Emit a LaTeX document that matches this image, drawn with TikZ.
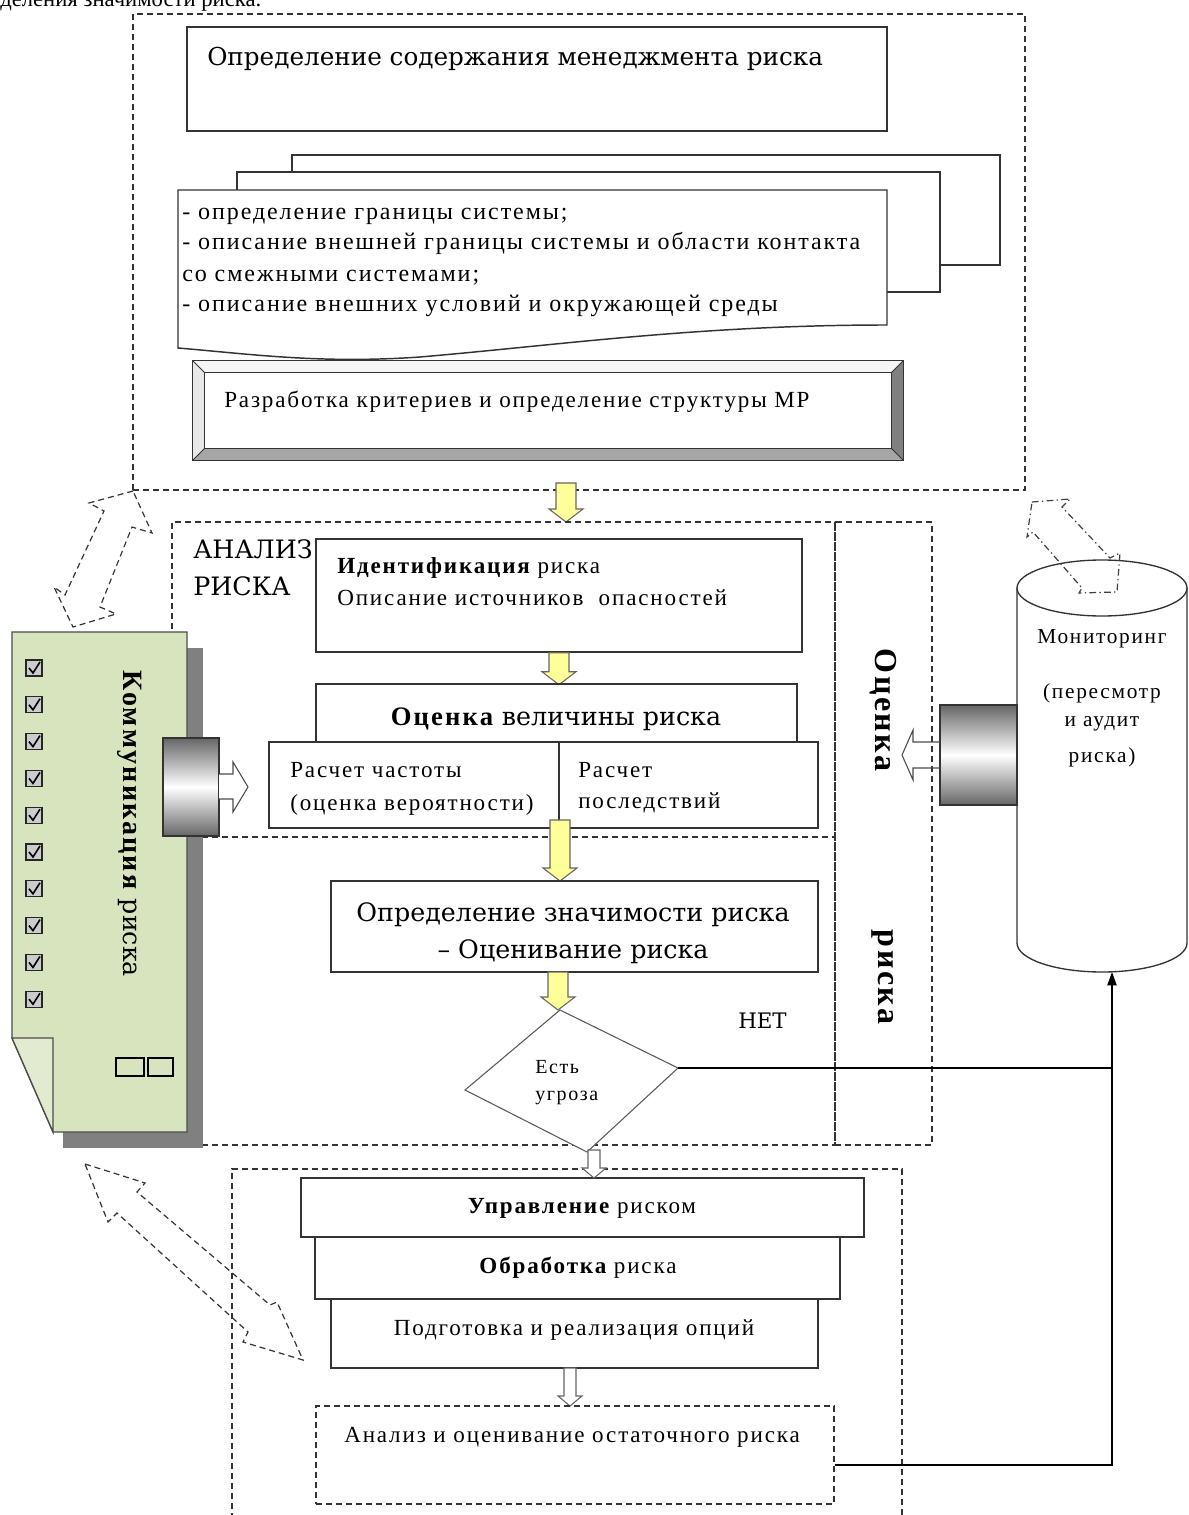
\documentclass[tikz,border=0pt]{standalone}
\usepackage{fontspec}
\setmainfont{Liberation Serif}
\newfontfamily\tnr[LetterSpace=8]{Liberation Serif}
\newfontfamily\widefont{DejaVu Serif}
\usepackage{tikz}
\usetikzlibrary{fit,calc,arrows.meta}

\definecolor{docgreen}{RGB}{215,228,189}
\definecolor{flapgreen}{RGB}{226,235,208}
\definecolor{arrowyellow}{RGB}{255,255,153}

\tikzset{
  box/.style={draw=black!80, line width=1.1pt, fill=white, inner sep=0pt},
  dashframe/.style={draw=black!80, line width=0.9pt, dash pattern=on 4.5pt off 3pt, inner sep=0pt},
  dashdotline/.style={draw=black!75, line width=0.9pt, dash pattern=on 5pt off 2.5pt on 1pt off 2.5pt},
  docline/.style={draw=black!80, line width=1.1pt, fill=white},
  lbl/.style={inner sep=0pt, anchor=base west, font=\tnr\fontsize{17.3}{20}\selectfont},
  midlbl/.style={inner sep=0pt, anchor=base, font=\tnr\fontsize{17.3}{20}\selectfont},
  widelbl/.style={inner sep=0pt, anchor=base west, font=\widefont\fontsize{18.5}{22}\selectfont},
  monlbl/.style={inner sep=0pt, anchor=base, font=\tnr\fontsize{16}{18}\selectfont},
  vlbl/.style={inner sep=0pt, rotate=-90, font=\tnr\bfseries\fontsize{24}{28}\selectfont},
  link/.style={draw=black, line width=1pt},
  grayblock/.style={draw=black!80, line width=0.8pt, inner sep=0pt, top color=black!60, bottom color=black!60, middle color=white},
  grayline/.style={draw=black!70, line width=0.8pt},
  chk/.style={draw=black!85, fill=gray!40, line width=1pt, minimum size=12pt, inner sep=0pt},
  chkmark/.style={draw=black, line width=1.2pt},
  pics/yarrow/.style={code={
    \draw[draw=black!60, fill=arrowyellow, line width=0.8pt] (-10,0) -- (10,0) -- (10,13-#1) -- (17,13-#1) -- (0,-#1) -- (-17,13-#1) -- (-10,13-#1) -- cycle;}},
  pics/warrow/.style={code={
    \draw[draw=black!60, fill=white, line width=0.8pt] (-6,0) -- (6,0) -- (6,10-#1) -- (12,10-#1) -- (0,-#1) -- (-12,10-#1) -- (-6,10-#1) -- cycle;}},
}

\begin{document}
\begin{tikzpicture}[x=0.75pt,y=0.75pt,yscale=-1,xscale=1]
\useasboundingbox (0,0) rectangle (1188,1515);

% caption line cut by the page top
\node[anchor=base west, inner sep=0pt, font=\fontsize{17}{20}\selectfont] (caption) at (0,7) {деления значимости риска.};

% context
\node[dashframe, fit={(133,14) (1025,490)}] (ctx) {};
\node[box, fit={(187,27) (887,131)}] (scope) {};
\node[widelbl] (scopet) at (207,66) {Определение содержания менеджмента риска};

\draw[docline] (292,155) rectangle (1000,265);
\draw[docline] (237,172) rectangle (940,292);
\draw[docline] (178,190) -- (887,190) -- (887,325) .. controls (700,325) and (560,345) .. (420,357) .. controls (320,364) and (250,354) .. (178,348) -- cycle;
\foreach \yy/\itemtext [count=\i] in {220/{- определение границы системы;}, 250/{- описание внешней границы системы и области контакта}, 282/{со смежными системами;}, 312/{- описание внешних условий и окружающей среды}}
  \node[lbl, font=\tnr\fontsize{18}{20}\selectfont] (bound\i) at (182,\yy) {\itemtext};

% criteria, bevelled
\node[inner sep=0pt, fit={(193,361) (903,460)}] (crit) {};
\node[inner sep=0pt, fit={(205,373) (891,448)}] (criti) {};
\fill[gray!8] (crit.north west) -- (crit.north east) -- (criti.north east) -- (criti.north west) -- cycle;
\fill[gray!18] (crit.north west) -- (criti.north west) -- (criti.south west) -- (crit.south west) -- cycle;
\fill[gray!70] (crit.south west) -- (criti.south west) -- (criti.south east) -- (crit.south east) -- cycle;
\fill[gray] (crit.north east) -- (crit.south east) -- (criti.south east) -- (criti.north east) -- cycle;
\draw[black!80, line width=1.1pt] (crit.north west) rectangle (crit.south east);
\draw[black!80, line width=0.8pt] (criti.north west) rectangle (criti.south east);
\draw[black!80, line width=0.6pt] (crit.north west) -- (criti.north west) (crit.north east) -- (criti.north east) (crit.south west) -- (criti.south west) (crit.south east) -- (criti.south east);
\node[lbl] (critt) at (224,407) {Разработка критериев и определение структуры МР};

\pic at (566,483) {yarrow=39};

% analysis / evaluation frames
\node[widelbl, font=\widefont\fontsize{19}{22}\selectfont] (anl1) at (193,558) {АНАЛИЗ};
\node[widelbl, font=\widefont\fontsize{19}{22}\selectfont] (anl2) at (193,595) {РИСКА};
\node[dashframe, fit={(172,522) (835,1145)}] (anl) {};
\node[dashframe, fit={(835,522) (932,1145)}] (evalf) {};
\coordinate (split) at (172,837);
\draw[dashframe] (split) -- (split -| evalf.west);
\node[vlbl] (evalt1) at (883,710) {Оценка};
\node[vlbl] (evalt2) at (883,977) {риска};

\node[box, fit={(316,539) (802,652)}] (ident) {};
\node[lbl] (ident1) at (337,573) {\bfseries Идентификация\mdseries\ риска};
\node[lbl] (ident2) at (337,605) {Описание источников\ \ опасностей};
\pic at (ident.south) {yarrow=32};

\node[box, fit={(316,684) (797,742)}] (size) {};
\node[anchor=base, inner sep=0pt] (sizet) at (556,725) {{\tnr\bfseries\fontsize{20}{24}\selectfont Оценка }{\widefont\fontsize{19}{24}\selectfont величины риска}};
\node[box, fit={(269,742) (559,828)}] (freq) {};
\node[box, fit={(559,742) (818,828)}] (cons) {};
\node[lbl] (freq1) at (290,777) {Расчет частоты};
\node[lbl] (freq2) at (290,810) {(оценка вероятности)};
\node[lbl] (cons1) at (578,777) {Расчет};
\node[lbl] (cons2) at (578,808) {последствий};
\pic at (560,820) {yarrow=61};

\node[box, fit={(331,881) (818,972)}] (signif) {};
\node[widelbl, anchor=base, font=\widefont\fontsize{19}{22}\selectfont] (signif1) at (573,921) {Определение значимости риска};
\node[widelbl, anchor=base, font=\widefont\fontsize{19}{22}\selectfont] (signif2) at (573,958) {– Оценивание риска};

\coordinate (dT) at (560,1010);
\coordinate (dR) at (678,1068);
\coordinate (dB) at (587,1152);
\coordinate (dL) at (465,1090);
\draw[draw=black!65, fill=white, line width=0.8pt] (dT) -- (dR) -- (dB) -- (dL) -- cycle;
\node[lbl, font=\tnr\fontsize{15}{18}\selectfont] (threat1) at (535,1073) {Есть};
\node[lbl, font=\tnr\fontsize{15}{18}\selectfont] (threat2) at (535,1100) {угроза};
\pic at (558,972) {yarrow=38};
\node[widelbl, font=\widefont\fontsize{16}{20}\selectfont] (no) at (738,1028) {НЕТ};

% communication sheet
\fill[black!50] (63,648) rectangle (203,1148);
\draw[draw=black!70, line width=1pt, fill=docgreen] (12,632) -- (187,632) -- (187,1132) -- (53,1132) -- (12,1038) -- cycle;
\draw[draw=black!70, line width=1pt, fill=flapgreen] (12,1038) -- (53,1038) -- (53,1132) -- cycle;
\foreach \k in {0,...,9} {
  \node[chk] (chk\k) at (34,{668+36.8*\k}) {};
  \draw[chkmark] ($(chk\k.center)+(-5,0)$) -- ++(4,5) -- ++(7,-11);
}
\node[draw=black, line width=0.8pt, inner sep=0pt, fit={(116,1058) (144,1076)}] (slot1) {};
\node[draw=black, line width=0.8pt, inner sep=0pt, fit={(148,1058) (173,1076)}] (slot2) {};
\node[inner sep=0pt, rotate=-90] (comm) at (130,824) {{\tnr\bfseries\fontsize{21}{24}\selectfont Коммуникация }{\widefont\fontsize{19}{24}\selectfont риска}};

\node[grayblock, fit={(163,738) (219,836)}] (commblk) {};
\draw[grayline, fill=white] (219,774) -- (233,774) -- (233,762) -- (248,787) -- (233,812) -- (233,799) -- (219,799);

% monitoring
\draw[draw=black!80, line width=1pt, fill=white] (1017,588) -- (1017,943) arc[start angle=180, end angle=0, x radius=85, y radius=29] -- (1187,588);
\draw[draw=black!80, line width=1pt, fill=white] (1102,588) ellipse[x radius=85, y radius=28];
\coordinate (monbot) at (1112,972);
\node[monlbl] (mon1) at (1102,643) {Мониторинг};
\node[monlbl] (mon2) at (1102,698) {(пересмотр};
\node[monlbl] (mon3) at (1102,726) {и аудит};
\node[monlbl] (mon4) at (1102,762) {риска)};
\node[grayblock, fit={(940,705) (1017,805)}] (monblk) {};
\draw[grayline] (940,742) -- (913,742) -- (913,730) -- (902,755) -- (913,780) -- (913,768) -- (940,768);

% two-way exchange arrows
\draw[dashdotline] (1032,502) -- (1070,499) -- (1062,507) -- (1110,558) -- (1120,553) -- (1117,592) -- (1079,593) -- (1082,588) -- (1033,532) -- (1027,537) -- cycle;
\draw[dashframe] (133,491) -- (89,503) -- (104,511) -- (65,595) -- (54,587) -- (73,627) -- (116,614) -- (100,607) -- (132,527) -- (152,533) -- cycle;
\draw[dashframe] (85,1164) -- (145,1183) -- (137,1192) -- (270,1305) -- (277,1302) -- (303,1360) -- (243,1342) -- (248,1332) -- (117,1213) -- (108,1222) -- cycle;

% treatment
\node[dashframe, fit={(232,1169) (902,1545)}] (treat) {};
\node[box, fit={(301,1178) (864,1237)}] (mgmt) {};
\node[box, fit={(315,1237) (840,1299)}] (proc) {};
\node[box, fit={(331,1299) (818,1368)}] (prep) {};
\node[midlbl] (mgmtt) at (582,1213) {\bfseries Управление\mdseries\ риском};
\node[midlbl] (proct) at (578,1273) {\bfseries Обработка\mdseries\ риска};
\node[midlbl] (prept) at (574,1335) {Подготовка и реализация опций};
\pic at (594,1150) {warrow=28};
\pic at (570,1368) {warrow=38};
\node[dashframe, fit={(316,1406) (834,1504)}] (resid) {};
\node[lbl] (residt) at (344,1442) {Анализ и оценивание остаточного риска};

% feedback to monitoring
\coordinate (fbcorner) at (1112,1465);
\draw[link] (dR) -- (dR -| fbcorner);
\draw[link, -{Triangle[length=10pt,width=7pt]}] (resid.east |- fbcorner) -- (fbcorner) -- (monbot);

\end{tikzpicture}
\end{document}
